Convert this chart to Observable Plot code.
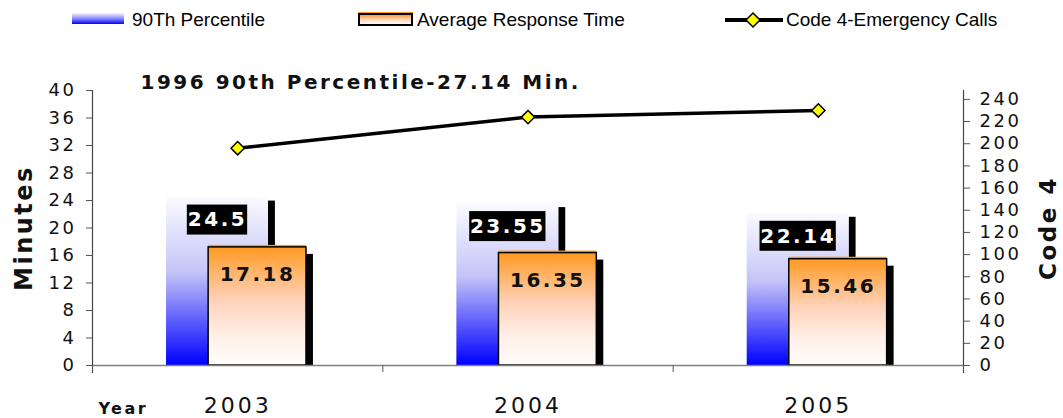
<!DOCTYPE html>
<html>
<head>
<meta charset="utf-8">
<script src="https://cdn.jsdelivr.net/npm/d3@7"></script>
<script src="https://cdn.jsdelivr.net/npm/@observablehq/plot@0.6"></script>
<style>
  html, body { margin: 0; padding: 0; background: #fff; }
  #legend { position: relative; width: 1063px; height: 40px; font-family: "Liberation Sans", Arial, sans-serif; font-size: 19px; color: #000; }
  #legend .item { position: absolute; top: 0; height: 40px; }
  #legend .txt { position: absolute; top: 9px; line-height: 22px; white-space: nowrap; }
  svg text { letter-spacing: 2.5px; }
  g[aria-label="x-axis tick label"] text { letter-spacing: 3px; }
  g[aria-label="axis-title"] text { letter-spacing: 0.5px; }
  g[aria-label="year-title"] text { letter-spacing: 1px; }
  g[aria-label="p90-label"] text, g[aria-label="avg-label"] text { letter-spacing: 2px; }
</style>
</head>
<body>
<div id="legend"></div>
<div id="chart"></div>
<script>
// ---- data ----
const years = ["2003", "2004", "2005"];
const percentile90 = [24.5, 23.55, 22.14];
const avgResponse = [17.18, 16.35, 15.46];
const code4Calls = [196, 224, 230];
const minuteTicks = [0, 4, 8, 12, 16, 20, 24, 28, 32, 36, 40];
const code4Ticks = [0, 20, 40, 60, 80, 100, 120, 140, 160, 180, 200, 220, 240];
const seriesNames = ["90Th Percentile", "Average Response Time", "Code 4-Emergency Calls"];
const chartTitle = "1996 90th Percentile-27.14 Min.";
const leftTitle = "Minutes";
const rightTitle = "Code 4";
const xTitle = "Year";

// ---- layout constants ----
const W = 1063, H = 378, ML = 92, MR = 100, MT = 50, MB = 53;
const bandPx = (W - ML - MR) / years.length;  // pixels per year band
const pxPerMin = (H - MT - MB) / 40;           // pixels per minute
const code4AxisMax = 248;            // right-axis value level with 40 minutes
const k = 40 / code4AxisMax;         // code4 -> minutes
const BLUE = [0.255, 0.606];         // bar position within each year band
const ORANGE = [0.400, 0.737];
const SH = 0.024;                    // shadow width (band units)

const rows = years.map((y, i) => ({i, year: y, p90: percentile90[i], avg: avgResponse[i], code: code4Calls[i]}));

// label box sizes measured from the label text
const ctx = document.createElement("canvas").getContext("2d");
ctx.font = "bold 20px 'DejaVu Sans'";
const boxHalf = s => (ctx.measureText(s).width + s.length * 2 + 3) / 2 / bandPx;
const blueMid = (BLUE[0] + BLUE[1]) / 2;
const labelOff = 23 / pxPerMin, boxHalfH = 15 / pxPerMin;

// ---- legend ----
const legend = document.getElementById("legend");
legend.innerHTML = `
  <div class="item" style="left:72px;"><div style="position:absolute;top:13px;width:52px;height:11px;background:linear-gradient(#f6f6ff,#8080ff 55%,#0000ff);"></div></div>
  <div class="txt" style="left:132px;">${seriesNames[0]}</div>
  <div class="item" style="left:358px;"><div style="position:absolute;top:13px;width:51px;height:9px;border:2px solid #000;box-shadow:0 -1px 0 #ff9922;background:linear-gradient(#ff9a30,#ffd6c0 50%,#fffaf6);"></div></div>
  <div class="txt" style="left:417px;">${seriesNames[1]}</div>
  <div class="item" style="left:722px;"><svg width="64" height="40"><line x1="3" y1="20" x2="61" y2="20" stroke="#000" stroke-width="4"/><path d="M31,13L38,20L31,27L24,20Z" fill="#ffff00" stroke="#000" stroke-width="1.5"/></svg></div>
  <div class="txt" style="left:786px;">${seriesNames[2]}</div>
`;

// ---- gradients ----
function defs() {
  const d = d3.create("svg:defs");
  const b = d.append("linearGradient").attr("id", "blueGrad").attr("x1", 0).attr("y1", 0).attr("x2", 0).attr("y2", 1);
  b.append("stop").attr("offset", "0%").attr("stop-color", "#fbfbff");
  b.append("stop").attr("offset", "45%").attr("stop-color", "#c4c4f8");
  b.append("stop").attr("offset", "100%").attr("stop-color", "#0000ff");
  const o = d.append("linearGradient").attr("id", "orangeGrad").attr("x1", 0).attr("y1", 0).attr("x2", 0).attr("y2", 1);
  o.append("stop").attr("offset", "0%").attr("stop-color", "#ff9a22");
  o.append("stop").attr("offset", "45%").attr("stop-color", "#ffd2ba");
  o.append("stop").attr("offset", "75%").attr("stop-color", "#fff0e8");
  o.append("stop").attr("offset", "100%").attr("stop-color", "#fffcfa");
  return d.node();
}

const chart = Plot.plot({
  width: W,
  height: H,
  marginLeft: ML,
  marginRight: MR,
  marginTop: MT,
  marginBottom: MB,
  style: {fontFamily: "DejaVu Sans", background: "#fff", color: "#000", overflow: "visible"},
  x: {domain: [0, years.length]},
  y: {domain: [0, 40]},
  marks: [
    defs,
    // blue bar shadow + bar
    Plot.rectY(rows, {x1: d => d.i + BLUE[1], x2: d => d.i + BLUE[1] + SH, y1: 0, y2: d => d.p90, insetTop: 4, fill: "#000"}),
    Plot.rectY(rows, {x1: d => d.i + BLUE[0], x2: d => d.i + BLUE[1], y1: 0, y2: d => d.p90, fill: "url(#blueGrad)"}),
    // orange bar shadow + accent + bar
    Plot.rectY(rows, {x1: d => d.i + ORANGE[1], x2: d => d.i + ORANGE[1] + SH, y1: 0, y2: d => d.avg, insetTop: 7, fill: "#000"}),
    Plot.rectY(rows, {x1: d => d.i + ORANGE[0], x2: d => d.i + ORANGE[1], y1: 0, y2: d => d.avg, dy: -2, fill: "#ff9922"}),
    Plot.rectY(rows, {x1: d => d.i + ORANGE[0], x2: d => d.i + ORANGE[1], y1: 0, y2: d => d.avg, fill: "url(#orangeGrad)", stroke: "#000", strokeWidth: 1.5}),
    // axis lines
    Plot.ruleY([0], {stroke: "#808080", strokeWidth: 1.5}),
    Plot.ruleX([0, years.length], {stroke: "#444", strokeWidth: 1.2, insetBottom: -8}),
    // axes
    Plot.axisY({anchor: "left", ticks: minuteTicks, tickSize: 6, tickPadding: 10, fontSize: 18, label: null, stroke: "#555", fill: "#111"}),
    Plot.axisY(code4Ticks.map(c => c * k), {anchor: "right", tickSize: 6, tickPadding: 10, fontSize: 18, label: null, tickFormat: v => String(Math.round(v / k)), stroke: "#555", fill: "#111"}),
    Plot.axisX(d3.range(0, years.length + 1), {tickSize: 7, tickFormat: () => "", label: null, stroke: "#555"}),
    Plot.axisX(years.map((y, i) => i + 0.5), {tickSize: 0, tickPadding: 32, fontSize: 22, tickFormat: v => years[Math.floor(v)], label: null, fill: "#111"}),
    // code 4 line
    Plot.line(rows, {x: d => d.i + 0.5, y: d => d.code * k, stroke: "#000", strokeWidth: 3.5}),
    Plot.dot(rows, {x: d => d.i + 0.5, y: d => d.code * k, symbol: "diamond2", r: 6, fill: "#ffff00", stroke: "#000", strokeWidth: 1.5}),
    // value labels (black boxes behind the 90th percentile values)
    Plot.rect(rows, {
      x1: d => d.i + blueMid - boxHalf(String(d.p90)),
      x2: d => d.i + blueMid + boxHalf(String(d.p90)),
      y1: d => d.p90 - labelOff - boxHalfH,
      y2: d => d.p90 - labelOff + boxHalfH,
      fill: "#000"
    }),
    Plot.text(rows, {x: d => d.i + blueMid, y: d => d.p90, dy: 23, text: d => String(d.p90), fill: "#fff", fontWeight: "bold", fontSize: 20, ariaLabel: "p90-label"}),
    Plot.text(rows, {x: d => d.i + (ORANGE[0] + ORANGE[1]) / 2, y: d => d.avg, dy: 27, text: d => String(d.avg), fill: "#111", fontWeight: "bold", fontSize: 20, ariaLabel: "avg-label"}),
    // titles
    Plot.text([chartTitle], {frameAnchor: "top-left", dx: 48, dy: -8, textAnchor: "start", lineAnchor: "middle", fontWeight: "bold", fontSize: 20, fill: "#111"}),
    Plot.text([leftTitle], {frameAnchor: "left", dx: -68, rotate: -90, textAnchor: "middle", lineAnchor: "middle", fontWeight: "bold", fontSize: 24, fill: "#111", ariaLabel: "axis-title"}),
    Plot.text([rightTitle], {frameAnchor: "right", dx: 85, rotate: -90, textAnchor: "middle", lineAnchor: "middle", fontWeight: "bold", fontSize: 23, fill: "#111", ariaLabel: "axis-title"}),
    Plot.text([xTitle], {frameAnchor: "bottom-left", dx: 6, dy: 43, textAnchor: "start", lineAnchor: "middle", fontWeight: "bold", fontSize: 16, fill: "#111", ariaLabel: "year-title"})
  ]
});
document.getElementById("chart").append(chart);
</script>
</body>
</html>
